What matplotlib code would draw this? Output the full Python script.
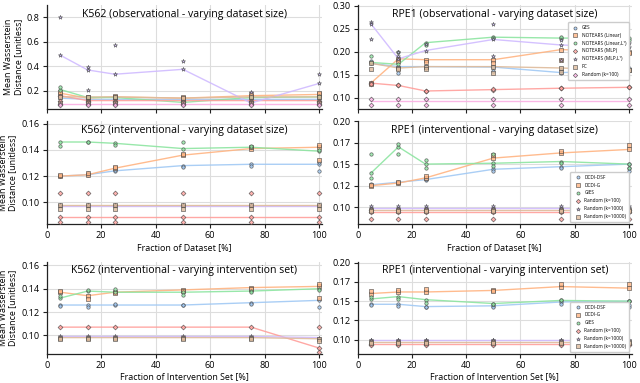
import matplotlib
matplotlib.use("Agg")
import matplotlib.pyplot as plt
from matplotlib.ticker import FormatStrFormatter

plt.rcParams['font.family'] = ['Open Sans', 'DejaVu Sans']

# ===============================
# DATA
# ===============================
x_vals = [5, 15, 25, 50, 75, 100]

obs_methods = ["GES", "NOTEARS (Linear)", "NOTEARS (Linear,L¹)", "NOTEARS (MLP)",
               "NOTEARS (MLP,L¹)", "PC", "Random (k=100)"]
obs_markers = ["o", "s", "o", "D", "*", "s", "D"]
obs_colors = ["#a1c9f4", "#ffb482", "#8de5a1", "#ff9f9b", "#d0bbff", "#debb9b", "#fab0e4"]

int_methods = ["DCDI-DSF", "DCDI-G", "GIES", "Random (k=100)", "Random (k=1000)", "Random (k=10000)"]
int_markers = ["o", "s", "o", "D", "*", "s"]
int_colors = ["#a1c9f4", "#ffb482", "#8de5a1", "#ff9f9b", "#d0bbff", "#debb9b"]

# K562 observational - mean line and individual runs
k562_obs_line = {
    "GES": [0.14, 0.13, 0.13, 0.13, 0.13, 0.13],
    "NOTEARS (Linear)": [0.18, 0.14, 0.15, 0.14, 0.16, 0.17],
    "NOTEARS (Linear,L¹)": [0.21, 0.145, 0.145, 0.105, 0.145, 0.15],
    "NOTEARS (MLP)": [0.16, 0.12, 0.12, 0.12, 0.12, 0.12],
    "NOTEARS (MLP,L¹)": [0.49, 0.37, 0.335, 0.375, 0.10, 0.26],
    "PC": [0.15, 0.15, 0.15, 0.14, 0.15, 0.15],
    "Random (k=100)": [0.09, 0.09, 0.09, 0.09, 0.09, 0.09],
}
k562_obs_pts = {
    "GES": [[0.14, 0.15], [0.13, 0.14], [0.13, 0.14], [0.12, 0.13], [0.13, 0.14], [0.13, 0.14]],
    "NOTEARS (Linear)": [[0.17, 0.19], [0.14, 0.15], [0.15, 0.16], [0.14, 0.15], [0.16, 0.17], [0.17, 0.18]],
    "NOTEARS (Linear,L¹)": [[0.21, 0.23], [0.14, 0.15], [0.14, 0.15], [0.10, 0.11], [0.14, 0.15], [0.15, 0.16]],
    "NOTEARS (MLP)": [[0.16, 0.12], [0.12, 0.11], [0.12, 0.11], [0.12, 0.11], [0.12, 0.11], [0.12, 0.11]],
    "NOTEARS (MLP,L¹)": [[0.80, 0.49], [0.39, 0.37, 0.21], [0.57, 0.335], [0.44, 0.375], [0.19, 0.10], [0.34, 0.26]],
    "PC": [[0.15, 0.10], [0.15, 0.10], [0.15, 0.10], [0.14, 0.10], [0.15, 0.10], [0.15, 0.10]],
    "Random (k=100)": [[0.09, 0.08], [0.09, 0.08], [0.09, 0.08], [0.09, 0.08], [0.09, 0.08], [0.09, 0.08]],
}

# RPE1 observational
rpe1_obs_line = {
    "GES": [0.175, 0.168, 0.168, 0.167, 0.155, 0.16],
    "NOTEARS (Linear)": [0.133, 0.185, 0.183, 0.183, 0.205, 0.20],
    "NOTEARS (Linear,L¹)": [0.177, 0.173, 0.22, 0.232, 0.23, 0.23],
    "NOTEARS (MLP)": [0.132, 0.127, 0.115, 0.118, 0.121, 0.123],
    "NOTEARS (MLP,L¹)": [0.26, 0.185, 0.203, 0.227, 0.215, 0.21],
    "PC": [0.175, 0.165, 0.168, 0.168, 0.165, 0.16],
    "Random (k=100)": [0.093, 0.093, 0.093, 0.093, 0.093, 0.093],
}
rpe1_obs_pts = {
    "GES": [[0.175, 0.18], [0.155, 0.168], [0.165, 0.17], [0.158, 0.167], [0.155, 0.16], [0.16, 0.165]],
    "NOTEARS (Linear)": [[0.133, 0.13], [0.185, 0.18], [0.183, 0.178], [0.183, 0.175], [0.205, 0.183], [0.20, 0.197]],
    "NOTEARS (Linear,L¹)": [[0.177, 0.19], [0.173, 0.20], [0.22, 0.215], [0.232, 0.23], [0.23, 0.232], [0.23, 0.225]],
    "NOTEARS (MLP)": [[0.132, 0.13], [0.127, 0.127], [0.115, 0.115], [0.118, 0.119], [0.121, 0.122], [0.123, 0.123]],
    "NOTEARS (MLP,L¹)": [[0.265, 0.26, 0.228], [0.185, 0.19, 0.20], [0.203, 0.218], [0.227, 0.26, 0.192],
                         [0.215, 0.183, 0.225], [0.21, 0.22]],
    "PC": [[0.175, 0.163], [0.165, 0.162], [0.168, 0.163], [0.168, 0.155], [0.165, 0.157], [0.16, 0.16]],
    "Random (k=100)": [[0.097, 0.085], [0.097, 0.085], [0.097, 0.085], [0.097, 0.085], [0.097, 0.085], [0.097, 0.085]],
}

# K562 interventional - varying dataset size
k562_ds_line = {
    "DCDI-DSF": [0.120, 0.121, 0.124, 0.128, 0.129, 0.129],
    "DCDI-G": [0.120, 0.121, 0.126, 0.136, 0.141, 0.142],
    "GIES": [0.146, 0.146, 0.145, 0.141, 0.142, 0.139],
    "Random (k=100)": [0.089, 0.089, 0.089, 0.089, 0.089, 0.089],
    "Random (k=1000)": [0.097, 0.097, 0.097, 0.097, 0.097, 0.097],
    "Random (k=10000)": [0.098, 0.098, 0.098, 0.098, 0.098, 0.098],
}
k562_ds_pts = {
    "DCDI-DSF": [[0.12, 0.12], [0.121, 0.122], [0.124, 0.125], [0.128, 0.127], [0.129, 0.128], [0.129, 0.131, 0.124]],
    "DCDI-G": [[0.12, 0.121], [0.121, 0.122], [0.126, 0.127], [0.136, 0.137], [0.141, 0.142], [0.142, 0.144, 0.132]],
    "GIES": [[0.146, 0.143], [0.146, 0.146], [0.145, 0.144], [0.141, 0.146], [0.142, 0.143], [0.139, 0.140]],
    "Random (k=100)": [[0.089, 0.085, 0.107], [0.089, 0.085, 0.107], [0.089, 0.085, 0.107],
                       [0.089, 0.085, 0.107], [0.089, 0.085, 0.107], [0.089, 0.085, 0.107]],
    "Random (k=1000)": [[0.097, 0.098], [0.097, 0.098], [0.097, 0.098], [0.097, 0.098], [0.097, 0.098], [0.097, 0.098]],
    "Random (k=10000)": [[0.098, 0.095], [0.098, 0.095], [0.098, 0.095], [0.098, 0.095], [0.098, 0.095], [0.098, 0.095]],
}

# RPE1 interventional - varying dataset size
rpe1_ds_line = {
    "DCDI-DSF": [0.126, 0.129, 0.132, 0.144, 0.147, 0.150],
    "DCDI-G": [0.125, 0.128, 0.134, 0.157, 0.163, 0.167],
    "GIES": [0.140, 0.170, 0.150, 0.151, 0.153, 0.150],
    "Random (k=100)": [0.094, 0.094, 0.094, 0.094, 0.094, 0.094],
    "Random (k=1000)": [0.099, 0.099, 0.099, 0.099, 0.099, 0.099],
    "Random (k=10000)": [0.097, 0.097, 0.097, 0.097, 0.097, 0.097],
}
rpe1_ds_pts = {
    "DCDI-DSF": [[0.126, 0.127], [0.129, 0.128], [0.132, 0.133], [0.144, 0.142], [0.147, 0.146], [0.150, 0.145, 0.142]],
    "DCDI-G": [[0.125, 0.126], [0.128, 0.129], [0.134, 0.136], [0.157, 0.160], [0.163, 0.165], [0.167, 0.172]],
    "GIES": [[0.140, 0.162, 0.134], [0.170, 0.173, 0.162], [0.150, 0.155, 0.145], [0.151, 0.162, 0.148],
             [0.153, 0.151], [0.150, 0.145]],
    "Random (k=100)": [[0.094, 0.086, 0.097], [0.094, 0.086, 0.097], [0.094, 0.086, 0.097],
                       [0.094, 0.086, 0.097], [0.094, 0.086, 0.097], [0.094, 0.086, 0.097]],
    "Random (k=1000)": [[0.099, 0.101], [0.099, 0.101], [0.099, 0.101], [0.099, 0.101], [0.099, 0.101], [0.099, 0.101]],
    "Random (k=10000)": [[0.097, 0.096], [0.097, 0.096], [0.097, 0.096], [0.097, 0.096], [0.097, 0.096], [0.097, 0.096]],
}

# K562 interventional - varying intervention set
k562_iv_line = {
    "DCDI-DSF": [0.126, 0.126, 0.126, 0.126, 0.128, 0.130],
    "DCDI-G": [0.137, 0.134, 0.137, 0.139, 0.141, 0.142],
    "GIES": [0.132, 0.138, 0.137, 0.137, 0.138, 0.140],
    "Random (k=100)": [0.107, 0.107, 0.107, 0.107, 0.107, 0.089],
    "Random (k=1000)": [0.099, 0.099, 0.099, 0.099, 0.099, 0.098],
    "Random (k=10000)": [0.098, 0.098, 0.098, 0.098, 0.098, 0.097],
}
k562_iv_pts = {
    "DCDI-DSF": [[0.126, 0.125], [0.126, 0.124], [0.126, 0.127], [0.126, 0.126], [0.128, 0.127], [0.130, 0.124]],
    "DCDI-G": [[0.137, 0.138], [0.134, 0.131], [0.137, 0.136], [0.139, 0.138], [0.141, 0.140], [0.142, 0.144, 0.132]],
    "GIES": [[0.132, 0.134], [0.138, 0.139], [0.137, 0.140], [0.137, 0.135], [0.138, 0.137], [0.140, 0.139]],
    "Random (k=100)": [[0.107], [0.107], [0.107], [0.107], [0.107], [0.089, 0.086, 0.107]],
    "Random (k=1000)": [[0.099, 0.098], [0.099, 0.098], [0.099, 0.098], [0.099, 0.098], [0.099, 0.098], [0.098, 0.097]],
    "Random (k=10000)": [[0.098, 0.097], [0.098, 0.097], [0.098, 0.097], [0.098, 0.097], [0.098, 0.097], [0.097, 0.095]],
}

# RPE1 interventional - varying intervention set
rpe1_iv_line = {
    "DCDI-DSF": [0.146, 0.146, 0.143, 0.144, 0.149, 0.150],
    "DCDI-G": [0.160, 0.162, 0.162, 0.164, 0.169, 0.167],
    "GIES": [0.153, 0.156, 0.152, 0.147, 0.151, 0.150],
    "Random (k=100)": [0.094, 0.094, 0.094, 0.094, 0.094, 0.094],
    "Random (k=1000)": [0.099, 0.099, 0.099, 0.099, 0.099, 0.099],
    "Random (k=10000)": [0.097, 0.097, 0.097, 0.097, 0.097, 0.097],
}
rpe1_iv_pts = {
    "DCDI-DSF": [[0.146, 0.145], [0.146, 0.144], [0.143, 0.142], [0.144, 0.142], [0.149, 0.146], [0.150, 0.142, 0.145]],
    "DCDI-G": [[0.160, 0.163], [0.162, 0.165], [0.162, 0.166], [0.164, 0.163], [0.169, 0.172], [0.167, 0.172]],
    "GIES": [[0.153, 0.156], [0.156, 0.153], [0.152, 0.148], [0.147, 0.146], [0.151, 0.152], [0.150, 0.150]],
    "Random (k=100)": [[0.094, 0.093], [0.094, 0.093], [0.094, 0.093], [0.094, 0.093], [0.094, 0.093], [0.094, 0.093]],
    "Random (k=1000)": [[0.099, 0.100], [0.099, 0.100], [0.099, 0.100], [0.099, 0.100], [0.099, 0.100], [0.099, 0.100]],
    "Random (k=10000)": [[0.097, 0.096], [0.097, 0.096], [0.097, 0.096], [0.097, 0.096], [0.097, 0.096], [0.097, 0.096]],
}

# ===============================
# FIGURE
# ===============================
fig = plt.figure(figsize=(6.4, 3.83), dpi=100)

# [left, bottom, width, height] in figure fraction
ax1 = fig.add_axes([0.073, 0.715, 0.430, 0.272])
ax2 = fig.add_axes([0.559, 0.715, 0.428, 0.272])
ax3 = fig.add_axes([0.073, 0.415, 0.430, 0.269])
ax4 = fig.add_axes([0.559, 0.415, 0.428, 0.269])
ax5 = fig.add_axes([0.073, 0.076, 0.430, 0.240])
ax6 = fig.add_axes([0.559, 0.076, 0.428, 0.240])


def draw_panel(ax, line_data, pts_data, methods, markers, colors, title, ylim, yticks, fmt):
    handles = []
    for m, mk, c in zip(methods, markers, colors):
        ax.plot(x_vals, line_data[m], color=c, lw=1.0, alpha=0.9, zorder=2)
        xs, ys = [], []
        for xv, plist in zip(x_vals, pts_data[m]):
            for p in plist:
                xs.append(xv)
                ys.append(p)
        h = ax.scatter(xs, ys, marker=mk, s=9 if mk == "*" else 6, facecolor=c,
                       edgecolor="#444444", linewidth=0.5, alpha=0.8, zorder=3, label=m)
        handles.append(h)
    ax.set_xlim(0, 101)
    ax.set_ylim(*ylim)
    ax.set_yticks(yticks)
    ax.yaxis.set_major_formatter(FormatStrFormatter(fmt))
    ax.set_xticks([0, 20, 40, 60, 80, 100])
    ax.grid(True, color="#dddddd", lw=0.8, zorder=0)
    ax.set_axisbelow(True)
    for s in ["top", "right"]:
        ax.spines[s].set_visible(False)
    for s in ["left", "bottom"]:
        ax.spines[s].set_color("#222222")
        ax.spines[s].set_linewidth(0.9)
    ax.tick_params(labelsize=6.6, length=3, width=0.8, color="#222222", pad=2)
    ax.text(0.5, 0.91, title, transform=ax.transAxes, ha="center", va="center", fontsize=7.6)
    return handles


h1 = draw_panel(ax1, k562_obs_line, k562_obs_pts, obs_methods, obs_markers, obs_colors,
                "K562 (observational - varying dataset size)", (0.05, 0.9), [0.2, 0.4, 0.6, 0.8], "%.1f")
h2 = draw_panel(ax2, rpe1_obs_line, rpe1_obs_pts, obs_methods, obs_markers, obs_colors,
                "RPE1 (observational - varying dataset size)", (0.0755, 0.302),
                [0.10, 0.15, 0.20, 0.25, 0.30], "%.2f")
h3 = draw_panel(ax3, k562_ds_line, k562_ds_pts, int_methods, int_markers, int_colors,
                "K562 (interventional - varying dataset size)", (0.0834, 0.162),
                [0.10, 0.12, 0.14, 0.16], "%.2f")
h4 = draw_panel(ax4, rpe1_ds_line, rpe1_ds_pts, int_methods, int_markers, int_colors,
                "RPE1 (interventional - varying dataset size)", (0.0804, 0.2),
                [0.1, 0.125, 0.15, 0.175, 0.2], "%.2f")
h5 = draw_panel(ax5, k562_iv_line, k562_iv_pts, int_methods, int_markers, int_colors,
                "K562 (interventional - varying intervention set)", (0.084, 0.163),
                [0.10, 0.12, 0.14, 0.16], "%.2f")
h6 = draw_panel(ax6, rpe1_iv_line, rpe1_iv_pts, int_methods, int_markers, int_colors,
                "RPE1 (interventional - varying intervention set)", (0.0815, 0.201),
                [0.1, 0.125, 0.15, 0.175, 0.2], "%.2f")

for ax in [ax1, ax2]:
    ax.tick_params(labelbottom=False)

for ax in [ax1, ax3, ax5]:
    ax.set_ylabel("Mean Wasserstein\nDistance [unitless]", fontsize=6.4, labelpad=3, linespacing=1.1)

for ax in [ax3, ax4]:
    ax.set_xlabel("Fraction of Dataset [%]", fontsize=6.4, labelpad=2)
for ax in [ax5, ax6]:
    ax.set_xlabel("Fraction of Intervention Set [%]", fontsize=6.4, labelpad=2)

# legends
leg_kw = dict(fontsize=3.4, frameon=True, handletextpad=0.4, labelspacing=0.6,
              borderpad=0.6, markerscale=0.9, fancybox=True, edgecolor="#cccccc", framealpha=1.0)
ax2.legend(handles=h2, loc="lower right", bbox_to_anchor=(1.0, 0.26), **leg_kw)
ax4.legend(handles=h4, loc="lower right", bbox_to_anchor=(1.0, 0.0), **leg_kw)
ax6.legend(handles=h6, loc="lower right", bbox_to_anchor=(1.0, 0.0), **leg_kw)

plt.savefig("out.png", dpi=100)
